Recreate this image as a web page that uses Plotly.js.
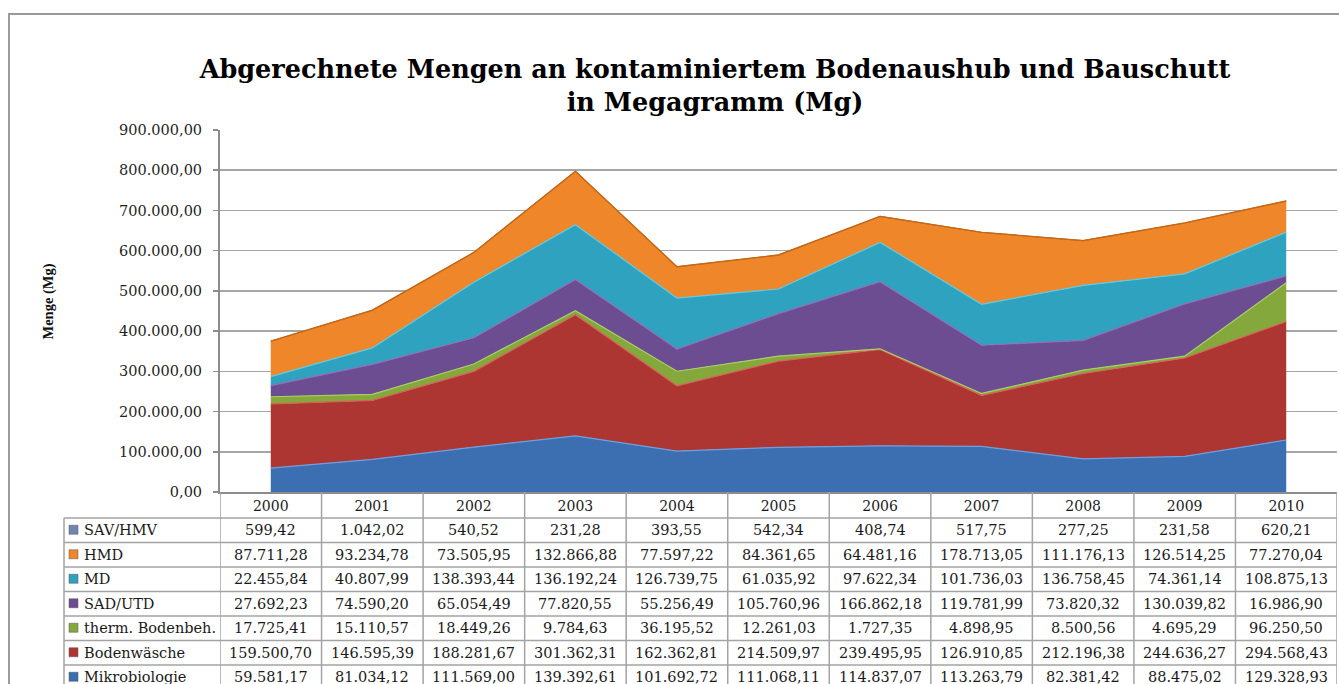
<!DOCTYPE html>
<html>
<head>
<meta charset="utf-8">
<script src="https://cdn.plot.ly/plotly-3.0.1.min.js"></script>
<style>html,body{margin:0;padding:0;background:#fff;}#chart{width:1339px;height:684px;}</style>
</head>
<body>
<div id="chart"></div>
<script>
// ---- data ----
const years = ['2000','2001','2002','2003','2004','2005','2006','2007','2008','2009','2010'];
const mikrobiologie = [59581.17, 81034.12, 111569.00, 139392.61, 101692.72, 111068.11, 114837.07, 113263.79, 82381.42, 88475.02, 129328.93];
const bodenwaesche = [159500.70, 146595.39, 188281.67, 301362.31, 162362.81, 214509.97, 239495.95, 126910.85, 212196.38, 244636.27, 294568.43];
const thermBoden = [17725.41, 15110.57, 18449.26, 9784.63, 36195.52, 12261.03, 1727.35, 4898.95, 8500.56, 4695.29, 96250.50];
const sadUtd = [27692.23, 74590.20, 65054.49, 77820.55, 55256.49, 105760.96, 166862.18, 119781.99, 73820.32, 130039.82, 16986.90];
const md = [22455.84, 40807.99, 138393.44, 136192.24, 126739.75, 61035.92, 97622.34, 101736.03, 136758.45, 74361.14, 108875.13];
const hmd = [87711.28, 93234.78, 73505.95, 132866.88, 77597.22, 84361.65, 64481.16, 178713.05, 111176.13, 126514.25, 77270.04];
const savHmv = [599.42, 1042.02, 540.52, 231.28, 393.55, 542.34, 408.74, 517.75, 277.25, 231.58, 620.21];
const seriesNames = ['Mikrobiologie', 'Bodenwäsche', 'therm. Bodenbeh.', 'SAD/UTD', 'MD', 'HMD', 'SAV/HMV'];
const yTickVals = [0, 100000, 200000, 300000, 400000, 500000, 600000, 700000, 800000, 900000];

// ---- styling ----
const seriesData = [mikrobiologie, bodenwaesche, thermBoden, sadUtd, md, hmd, savHmv];
const fillColors = ['#3c6eb2', '#ad3633', '#84a83c', '#6c4d92', '#2ea2bf', '#ef8629', '#6f86b0'];
const edgeColors = ['#6d9fe0', '#d8605a', '#a9cf62', '#8f6fb8', '#5ccbe4', '#c46818', '#c46818'];
const serif = 'DejaVu Serif';

function fmtDE(v) {
  const parts = v.toFixed(2).split('.');
  return parts[0].replace(/\B(?=(\d{3})+(?!\d))/g, '.') + ',' + parts[1];
}

// plot geometry in pixels
const W = 1339, H = 684;
const L = 220, R = 2, T = 130, B = 192;
const pw = W - L - R, ph = H - T - B;
const px2x = p => (p - L) / pw;
const py2y = p => (H - B - p) / ph;

const traces = seriesData.map((vals, i) => ({
  type: 'scatter', mode: 'lines', x: years, y: vals, name: seriesNames[i],
  stackgroup: 'one', fillcolor: fillColors[i],
  line: {color: edgeColors[i], width: 1.2}, hoverinfo: 'x+y+name'
}));

const annotations = [];
const shapes = [];
const lineCol = '#a3a3a3';

// y-axis title
annotations.push({xref: 'paper', yref: 'paper', x: px2x(37), y: py2y(302), text: 'Menge (Mg)',
  textangle: -90, showarrow: false, font: {family: 'Liberation Serif', size: 14.5, weight: 'bold', color: '#111'}});

// table
const rowTop = 518, rowH = 24.5, tableLeft = 64, tableBottom = 700;
const nRows = seriesNames.length;
for (let r = 0; r < nRows; r++) {
  const si = nRows - 1 - r;
  const cy = rowTop + rowH * (r + 0.5);
  shapes.push({type: 'rect', xref: 'paper', yref: 'paper', x0: px2x(69), x1: px2x(78),
    y0: py2y(cy + 4), y1: py2y(cy - 5), fillcolor: fillColors[si], line: {width: 0.5, color: '#555'}});
  annotations.push({xref: 'paper', yref: 'paper', x: px2x(82), y: py2y(cy), xanchor: 'left', yanchor: 'middle',
    text: seriesNames[si], showarrow: false, font: {family: serif, size: 14.5, color: '#1a1a1a'}});
  years.forEach((yr, c) => {
    annotations.push({xref: 'x', yref: 'paper', x: c, y: py2y(cy), xanchor: 'center', yanchor: 'middle',
      text: fmtDE(seriesData[si][c]), showarrow: false, font: {family: serif, size: 14.5, color: '#1a1a1a'}});
  });
}
for (let r = 0; r <= nRows; r++) {
  const py = rowTop + rowH * r;
  shapes.push({type: 'line', xref: 'paper', yref: 'paper', x0: px2x(tableLeft), x1: 1,
    y0: py2y(py), y1: py2y(py), line: {color: lineCol, width: 1.5}});
}
for (let c = 0; c <= years.length; c++) {
  shapes.push({type: 'line', xref: 'x', yref: 'paper', x0: c - 0.5, x1: c - 0.5,
    y0: 0, y1: py2y(tableBottom), line: {color: lineCol, width: 1.5}});
}
shapes.push({type: 'line', xref: 'paper', yref: 'paper', x0: px2x(tableLeft), x1: px2x(tableLeft),
  y0: py2y(rowTop), y1: py2y(tableBottom), line: {color: lineCol, width: 1.5}});
// outer chart border
shapes.push({type: 'rect', xref: 'paper', yref: 'paper', x0: px2x(9), x1: px2x(1360),
  y0: py2y(720), y1: py2y(14), line: {color: '#9a9a9a', width: 2}, fillcolor: 'rgba(0,0,0,0)'});

const layout = {
  width: W, height: H,
  margin: {l: L, r: R, t: T, b: B, pad: 0},
  paper_bgcolor: '#fff', plot_bgcolor: '#fff',
  showlegend: false,
  title: {text: 'Abgerechnete Mengen an kontaminiertem Bodenaushub und Bauschutt<br>in Megagramm (Mg)',
    font: {family: serif, size: 25.5, weight: 'bold', color: '#000'},
    x: 715 / W, xanchor: 'center', xref: 'container', y: 1 - 78 / H, yanchor: 'middle', yref: 'container'},
  xaxis: {type: 'category', range: [-0.5, years.length - 0.5], showgrid: false, zeroline: false,
    showline: true, linecolor: '#8c8c8c', linewidth: 2, ticks: '',
    tickfont: {family: serif, size: 14, color: '#1a1a1a'}, ticklabelstandoff: 0, fixedrange: true},
  yaxis: {range: [0, 900000], tickvals: yTickVals, ticktext: yTickVals.map(fmtDE),
    showgrid: true, gridcolor: '#a6a6a6', gridwidth: 1.5, zeroline: false,
    showline: true, linecolor: '#8c8c8c', linewidth: 2, ticks: 'outside', ticklen: 5, tickcolor: '#8c8c8c', tickwidth: 1.5,
    tickfont: {family: serif, size: 14.5, color: '#1f1f1f'}, ticklabelstandoff: 8, fixedrange: true},
  annotations: annotations,
  shapes: shapes
};

Plotly.newPlot('chart', traces, layout, {displayModeBar: false, staticPlot: true});
</script>
</body>
</html>
